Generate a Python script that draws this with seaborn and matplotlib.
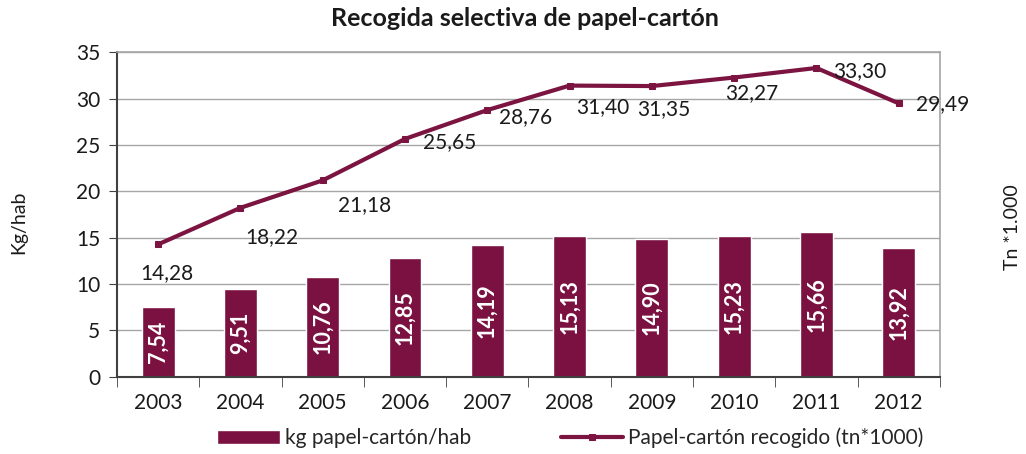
import numpy as np
import pandas as pd
import matplotlib
matplotlib.use("Agg")
import matplotlib.pyplot as plt
import seaborn as sns
from matplotlib.ticker import FixedLocator

# ==========================================
# DATA
# ==========================================

years = ["2003", "2004", "2005", "2006", "2007", "2008", "2009", "2010", "2011", "2012"]
kg_hab = [7.54, 9.51, 10.76, 12.85, 14.19, 15.13, 14.90, 15.23, 15.66, 13.92]
tn_recogido = [14.28, 18.22, 21.18, 25.65, 28.76, 31.40, 31.35, 32.27, 33.30, 29.49]

# label offsets in px (right, down) for the line labels
line_lab_offset = [(9, 29), (31, 29), (42, 25), (45, 3), (38, 7),
                   (33, 21), (12, 23), (18, 16), (43, 3), (44, 1)]

bar_color = "#7B1140"
line_color = "#7B1440"

# ==========================================
# PLOT
# ==========================================

sns.set_style("white")
plt.rcParams["font.family"] = ["Lato", "DejaVu Sans"]

fig = plt.figure(figsize=(10.26, 4.54), dpi=100)
ax = fig.add_axes([0.114, 0.170, 0.802, 0.715])

df = pd.DataFrame({"year": years, "kg": kg_hab, "tn": tn_recogido})

sns.barplot(data=df, x="year", y="kg", color=bar_color, saturation=1,
            width=0.40, ax=ax, label="kg papel-cartón/hab")

pos = np.arange(len(years))
sns.lineplot(x=pos, y=df["tn"].values, color=line_color, marker="s",
             markersize=5, markeredgecolor=line_color, linewidth=3,
             ax=ax, label="Papel-cartón recogido (tn*1000)")

ax.set_xlim(-0.5, len(years) - 0.5)
ax.set_ylim(0, 35)
ax.set_yticks(range(0, 36, 5))

ax.grid(axis="y", color="#A6A6A6", linewidth=1)
ax.set_axisbelow(True)

for side in ["top", "right"]:
    ax.spines[side].set_visible(True)
    ax.spines[side].set_color("#A6A6A6")
    ax.spines[side].set_linewidth(1.2)
for side in ["left", "bottom"]:
    ax.spines[side].set_color("#404040")
    ax.spines[side].set_linewidth(1.5)

ax.tick_params(axis="y", which="major", direction="out", length=6,
               color="#404040", labelsize=15, labelcolor="#1a1a1a", left=True,
               pad=6)
ax.tick_params(axis="x", which="major", length=0, labelsize=15,
               labelcolor="#1a1a1a", pad=12)
ax.xaxis.set_minor_locator(FixedLocator(np.arange(-0.5, len(years), 1.0)))
ax.tick_params(axis="x", which="minor", direction="out", length=7,
               color="#404040", bottom=True)

ax.set_xlabel("")
ax.set_ylabel("")

# bar value labels
for i, v in enumerate(kg_hab):
    ax.text(i, v / 2, f"{v:.2f}".replace(".", ","), rotation=90,
            ha="center", va="center", color="white", fontsize=15.5,
            fontweight="bold")

# line value labels
for i, v in enumerate(tn_recogido):
    dx, dy = line_lab_offset[i]
    ax.annotate(f"{v:.2f}".replace(".", ","), (i, v),
                xytext=(dx * 0.72, -dy * 0.72), textcoords="offset points",
                ha="center", va="center", fontsize=15, color="#1a1a1a")

fig.text(0.512, 0.96, "Recogida selectiva de papel-cartón", ha="center",
         va="center", fontsize=18, fontweight="bold", color="#1a1a1a")
fig.text(0.018, 0.51, "Kg/hab", rotation=90, ha="center", va="center",
         fontsize=14, color="#1a1a1a")
fig.text(0.987, 0.50, "Tn *1.000", rotation=90, ha="center", va="center",
         fontsize=14, color="#1a1a1a")

handles, labels = ax.get_legend_handles_labels()
ax.get_legend().remove()
# bars first, line second
order = [labels.index("kg papel-cartón/hab"),
         labels.index("Papel-cartón recogido (tn*1000)")]
fig.legend([handles[k] for k in order], [labels[k] for k in order],
           loc="center", bbox_to_anchor=(0.556, 0.035),
           ncol=2, frameon=False, fontsize=15, columnspacing=4.3,
           handlelength=3.0, handletextpad=0.25)

fig.savefig("out.png", dpi=100)
